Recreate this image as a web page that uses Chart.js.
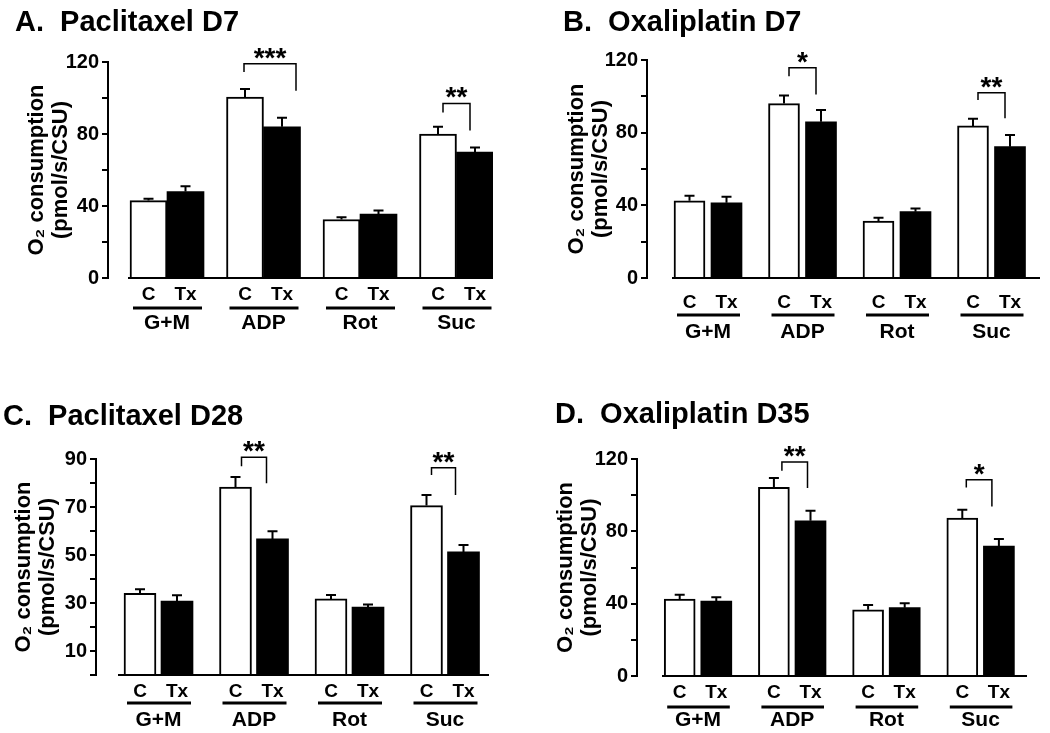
<!DOCTYPE html>
<html>
<head>
<meta charset="utf-8">
<script src="https://cdn.jsdelivr.net/npm/chart.js@4.4.1/dist/chart.umd.min.js"></script>
<style>
  body { margin: 0; background: #fff; width: 1050px; height: 733px; position: relative; overflow: hidden; }
  canvas { position: absolute; }
</style>
</head>
<body>
<canvas id="cA"></canvas>
<canvas id="cB"></canvas>
<canvas id="cC"></canvas>
<canvas id="cD"></canvas>
<script>
// shared categories
const groups = ['G+M', 'ADP', 'Rot', 'Suc'];
const subLabels = ['C', 'Tx'];
const yTitle = ['O\u2082 consumption', '(pmol/s/CSU)'];

// A. Paclitaxel D7
const titleA = 'A.  Paclitaxel D7';
const ctrlA = [43, 100.5, 32.5, 80];
const ctrlErrA = [1, 4.5, 1.2, 4];
const txA = [48, 84, 35.5, 70];
const txErrA = [3, 5, 2, 2.5];
const yLabelsA = [0, 40, 80, 120];
// [group, stars, bracket top, C leg end, Tx leg end]
const sigA = [[1, '***', 119, 114.5, 104], [3, '**', 97, 92, 82]];

// B. Oxaliplatin D7
const titleB = 'B.  Oxaliplatin D7';
const ctrlB = [42.5, 96, 31.4, 83.7];
const ctrlErrB = [2.8, 4.5, 1.8, 4];
const txB = [41.4, 86, 36.5, 72.3];
const txErrB = [3.3, 6.5, 1.8, 6.4];
const yLabelsB = [0, 40, 80, 120];
const sigB = [[1, '*', 115.8, 111, 101], [3, '**', 102, 98, 88]];

// C. Paclitaxel D28
const titleC = 'C.  Paclitaxel D28';
const ctrlC = [34, 78.3, 31.7, 70.6];
const ctrlErrC = [1.7, 4.2, 1.6, 4.4];
const txC = [30.8, 56.7, 28.3, 51.3];
const txErrC = [2.4, 3.2, 1.1, 2.9];
const yLabelsC = [10, 30, 50, 70, 90];
const sigC = [[1, '**', 90.7, 87, 79.9], [3, '**', 86.4, 83.3, 75]];

// D. Oxaliplatin D35
const titleD = 'D.  Oxaliplatin D35';
const ctrlD = [42.5, 104.3, 36.6, 87.3];
const ctrlErrD = [2.4, 5.2, 2.7, 4.6];
const txD = [41.4, 85.8, 37.8, 71.8];
const txErrD = [2.2, 5.6, 2.4, 3.9];
const yLabelsD = [0, 40, 80, 120];
const sigD = [[1, '**', 118.3, 113.5, 104], [3, '*', 108.5, 104.3, 93.8]];

Chart.defaults.font.family = "'Liberation Sans', Arial, Helvetica, sans-serif";
Chart.defaults.font.weight = 'bold';
Chart.defaults.color = '#000';

const subSize = 19, groupSize = 21, tickSize = 20, starSize = 28;

// page-pixel layout of each panel
const panels = [
  { id: 'cA', title: titleA, ctrl: ctrlA, ctrlErr: ctrlErrA, tx: txA, txErr: txErrA, yLabels: yLabelsA, sig: sigA,
    yMax: 120, yStep: 20, box: [0, 0, 525, 350], padLeft: 15, axisX: 108, right: 493, plotTop: 62, plotBottom: 278,
    c0: 167, sp: 96.5, baseX: 128, barW: 37, barOff: 18.5, titleY: 23, yTitleX: 37, d1: 17, dU: 30, dG: 45,
    legInset: [[-1, -14], [5, 5]] },
  { id: 'cB', title: titleB, ctrl: ctrlB, ctrlErr: ctrlErrB, tx: txB, txErr: txErrB, yLabels: yLabelsB, sig: sigB,
    yMax: 120, yStep: 20, box: [525, 0, 525, 350], padLeft: 38, axisX: 647, right: 1040, plotTop: 60, plotBottom: 278,
    c0: 708, sp: 94.5, baseX: 672, barW: 31, barOff: 18.5, titleY: 23, yTitleX: 577, d1: 25, dU: 37, dG: 54,
    legInset: [[5, 5], [5, 5]] },
  { id: 'cC', title: titleC, ctrl: ctrlC, ctrlErr: ctrlErrC, tx: txC, txErr: txErrC, yLabels: yLabelsC, sig: sigC,
    yMax: 90, yStep: 10, box: [0, 370, 525, 363], padLeft: 3, axisX: 96, right: 489, plotTop: 459, plotBottom: 675,
    c0: 158.5, sp: 95.5, baseX: 118, barW: 32, barOff: 18.5, titleY: 417, yTitleX: 24, d1: 17, dU: 28, dG: 45,
    legInset: [[6, 6], [5, 8]] },
  { id: 'cD', title: titleD, ctrl: ctrlD, ctrlErr: ctrlErrD, tx: txD, txErr: txErrD, yLabels: yLabelsD, sig: sigD,
    yMax: 120, yStep: 20, box: [525, 370, 525, 363], padLeft: 30, axisX: 637, right: 1027, plotTop: 459, plotBottom: 676,
    c0: 698, sp: 94.2, baseX: 662, barW: 31, barOff: 18.3, titleY: 415, yTitleX: 566, d1: 17, dU: 31, dG: 44,
    legInset: [[8, 3], [4, 7]] }
];

function makeDecor(p) {
  return {
    id: 'decor',
    afterDraw(chart) {
      const { ctx, chartArea, scales: { x, y } } = chart;
      const metaC = chart.getDatasetMeta(0);
      const metaT = chart.getDatasetMeta(1);
      ctx.save();
      ctx.strokeStyle = '#000';
      ctx.fillStyle = '#000';
      ctx.lineWidth = 2;
      // baseline (starts a little right of the y axis)
      const y0 = y.getPixelForValue(0);
      ctx.beginPath();
      ctx.moveTo(x.getPixelForValue((p.baseX - p.c0) / p.sp), y0);
      ctx.lineTo(chartArea.right, y0);
      ctx.stroke();
      // error bars (upper only)
      [[metaC, p.ctrl, p.ctrlErr], [metaT, p.tx, p.txErr]].forEach(([meta, vals, errs]) => {
        meta.data.forEach((bar, i) => {
          const yt = y.getPixelForValue(vals[i] + errs[i]);
          ctx.beginPath();
          ctx.moveTo(bar.x, bar.y);
          ctx.lineTo(bar.x, yt);
          ctx.moveTo(bar.x - 5, yt);
          ctx.lineTo(bar.x + 5, yt);
          ctx.stroke();
        });
      });
      // group underlines
      ctx.lineWidth = 2.8;
      groups.forEach((g, i) => {
        const l = metaC.data[i].x - metaC.data[i].width / 2 + 3;
        const r = metaT.data[i].x + metaT.data[i].width / 2 - 2;
        const yu = chartArea.bottom + p.dU;
        ctx.beginPath();
        ctx.moveTo(l, yu);
        ctx.lineTo(r, yu);
        ctx.stroke();
      });
      // significance brackets
      ctx.lineWidth = 1.5;
      ctx.font = "bold " + starSize + "px 'Liberation Sans', Arial, sans-serif";
      ctx.textAlign = 'center';
      ctx.textBaseline = 'alphabetic';
      p.sig.forEach(([g, stars, topV, lV, rV], k) => {
        const [il, ir] = p.legInset[k];
        const xl = metaC.data[g].x + il;
        const xr = metaT.data[g].x - ir;
        const yt = y.getPixelForValue(topV);
        ctx.beginPath();
        ctx.moveTo(xl, y.getPixelForValue(lV));
        ctx.lineTo(xl, yt);
        ctx.lineTo(xr, yt);
        ctx.lineTo(xr, y.getPixelForValue(rV));
        ctx.stroke();
        ctx.fillText(stars, (xl + xr) / 2, yt + 3);
      });
      ctx.restore();
    }
  };
}

function drawPanel(p) {
  const cv = document.getElementById(p.id);
  const [bx, by, bw, bh] = p.box;
  cv.style.left = bx + 'px';
  cv.style.top = by + 'px';
  cv.width = bw;
  cv.height = bh;
  cv.style.width = bw + 'px';
  cv.style.height = bh + 'px';

  const left = p.axisX - bx;
  const right = p.right - bx;
  const top = p.plotTop - by;
  const bottom = p.plotBottom - by;
  const xMin = (p.axisX - p.c0) / p.sp;
  const xMax = (p.right - p.c0) / p.sp;
  const off = p.barOff / p.sp;
  const titleH = 29 * 1.2;
  const tPadTop = p.titleY - by - titleH / 2;
  const tPadBottom = top - tPadTop - titleH;
  const yTitleLH = 22 * 1.1;
  const gH = 26;

  new Chart(cv, {
    type: 'bar',
    data: {
      datasets: [
        { label: 'C', data: p.ctrl.map((v, i) => ({ x: i - off, y: v })), backgroundColor: '#fff',
          borderColor: '#000', borderWidth: 2, barThickness: p.barW, grouped: false },
        { label: 'Tx', data: p.tx.map((v, i) => ({ x: i + off, y: v })), backgroundColor: '#000',
          borderColor: '#000', borderWidth: 0, barThickness: p.barW, grouped: false }
      ]
    },
    options: {
      responsive: false,
      animation: false,
      layout: { padding: { left: p.padLeft, right: bw - right, top: 0, bottom: bh - bottom - p.dU - gH } },
      plugins: {
        legend: { display: false },
        tooltip: { enabled: false },
        title: { display: true, text: p.title, align: 'start', color: '#000',
          font: { size: 29, weight: 'bold' }, padding: { top: tPadTop, bottom: tPadBottom } }
      },
      scales: {
        y: {
          min: 0, max: p.yMax,
          afterFit: s => { s.width = left - p.padLeft; },
          ticks: { stepSize: p.yStep, autoSkip: false, padding: 3, color: '#000', font: { size: tickSize, weight: 'bold' },
            callback: v => p.yLabels.includes(v) ? String(v) : '' },
          grid: { drawOnChartArea: false, drawTicks: true, tickLength: 6, lineWidth: 2, color: '#000' },
          border: { display: true, color: '#000', width: 2 },
          title: { display: true, text: yTitle, color: '#000',
            font: { size: 22, weight: 'bold', lineHeight: 1.1 },
            padding: { top: p.yTitleX - bx - p.padLeft - yTitleLH / 2, bottom: 0 } }
        },
        x: {
          type: 'linear', position: 'bottom', min: xMin, max: xMax, offset: false,
          afterBuildTicks: s => { s.ticks = groups.flatMap((g, i) => [{ value: i - off }, { value: i + off }]); },
          afterFit: s => { s.height = p.dU; },
          ticks: { autoSkip: false, maxRotation: 0, padding: p.d1 - subSize * 0.6, color: '#000',
            font: { size: subSize, weight: 'bold' }, callback: (v, i) => subLabels[i % 2] },
          grid: { display: false, drawTicks: false },
          border: { display: false }
        },
        xg: {
          type: 'linear', axis: 'x', position: 'bottom', weight: 1, min: xMin, max: xMax, offset: false,
          afterBuildTicks: s => { s.ticks = groups.map((g, i) => ({ value: i })); },
          afterFit: s => { s.height = gH; },
          ticks: { autoSkip: false, maxRotation: 0, padding: Math.max(0, p.dG - p.dU - groupSize * 0.6), color: '#000',
            font: { size: groupSize, weight: 'bold' }, callback: (v, i) => groups[i] },
          grid: { display: false, drawTicks: false },
          border: { display: false }
        }
      }
    },
    plugins: [makeDecor(p)]
  });
}

panels.forEach(drawPanel);
</script>
</body>
</html>
